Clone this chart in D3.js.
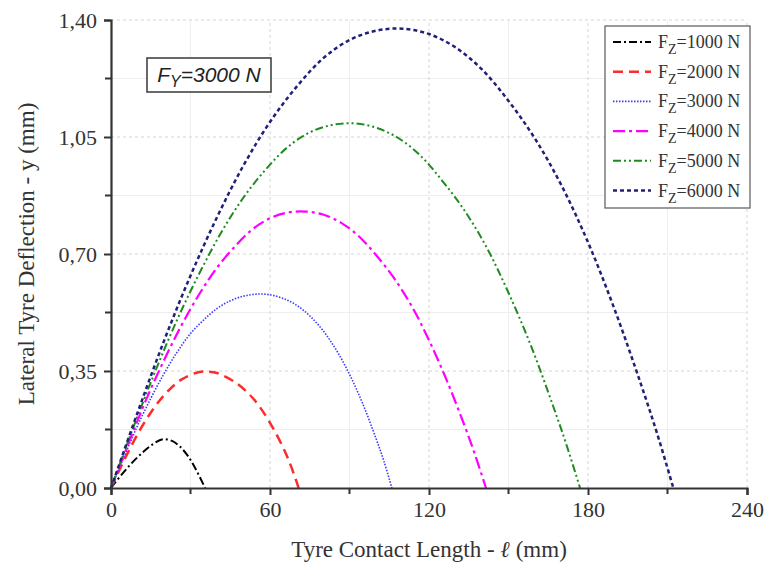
<!DOCTYPE html>
<html>
<head>
<meta charset="utf-8">
<script src="https://cdn.jsdelivr.net/npm/d3@7"></script>
<style>
  body { margin: 0; background: #fff; }
  svg { display: block; }
</style>
</head>
<body>
<div id="chart"></div>
<script>
// values (mm)
var loads = ["1000", "2000", "3000", "4000", "5000", "6000"];

var x1000 = [0, 4, 8, 12, 16, 19.5, 23, 26, 29, 32, 35.5];
var y1000 = [0, 0.04, 0.076, 0.107, 0.132, 0.146, 0.141, 0.124, 0.096, 0.056, 0];

var x2000 = [0, 6.7, 13.3, 20, 26.7, 33.4, 37, 40, 46.7, 53.4, 60, 66.7, 70.8];
var y2000 = [0, 0.111, 0.205, 0.277, 0.325, 0.347, 0.348, 0.344, 0.317, 0.27, 0.195, 0.09, 0];

var x3000 = [0, 5, 10, 15, 20, 25, 30, 35, 40, 45, 50, 55, 60, 65, 70, 75, 80, 85, 90, 95, 100, 103, 106];
var y3000 = [0, 0.095, 0.186, 0.268, 0.342, 0.407, 0.462, 0.503, 0.537, 0.56, 0.574, 0.58, 0.578, 0.567, 0.547, 0.515, 0.471, 0.413, 0.34, 0.252, 0.148, 0.08, 0];

var x4000 = [0, 6.7, 13.3, 20, 26.7, 33.4, 40, 46.7, 53.4, 60, 66.7, 73.4, 80, 86.7, 93.4, 100, 106.7, 113.4, 120, 126.7, 133.4, 137.4, 141.5];
var y4000 = [0, 0.135, 0.265, 0.382, 0.488, 0.581, 0.659, 0.722, 0.774, 0.807, 0.824, 0.827, 0.818, 0.794, 0.754, 0.697, 0.629, 0.545, 0.442, 0.322, 0.187, 0.099, 0];

var x5000 = [0, 8.3, 16.7, 25, 33.4, 41.7, 50, 58.4, 66.7, 75, 83.4, 91.7, 100, 108.4, 116.8, 125, 133.4, 141.8, 150, 158.5, 166.8, 171.8, 177];
var y5000 = [0, 0.179, 0.349, 0.504, 0.643, 0.766, 0.869, 0.953, 1.02, 1.064, 1.086, 1.091, 1.078, 1.047, 0.994, 0.919, 0.83, 0.719, 0.584, 0.425, 0.246, 0.131, 0];

var x6000 = [0, 10, 20, 30, 40, 50, 60, 70, 80, 90, 100, 110, 120, 130, 140, 150, 160, 170, 180, 190, 200, 206, 212.2];
var y6000 = [0, 0.225, 0.44, 0.635, 0.81, 0.965, 1.095, 1.2, 1.285, 1.34, 1.368, 1.374, 1.358, 1.318, 1.252, 1.158, 1.045, 0.905, 0.735, 0.535, 0.31, 0.165, 0];

var xTicks = [0, 60, 120, 180, 240];
var yTicks = [0, 0.35, 0.70, 1.05, 1.40];
var xMinor = [30, 90, 150, 210];
var yMinor = [0.175, 0.525, 0.875, 1.225];

var seriesX = [x1000, x2000, x3000, x4000, x5000, x6000];
var seriesY = [y1000, y2000, y3000, y4000, y5000, y6000];

var colors = ["#000000", "#ff2a2a", "#3a3aff", "#ff00ff", "#1f8a1f", "#20207a"];
var dashes = ["8,3,2,3", "10,6", "1.5,1.5", "12,4,3,4", "8,3,2,3,2,3", "4,3"];
var widths = [2, 2.5, 1.6, 2.2, 2, 2.5];

function init() {
    var width = 764;
    var height = 568;
    var margin = { left: 111, right: 17, top: 20, bottom: 80 };
    var serif = "'Liberation Serif', 'Times New Roman', serif";

    var svg = d3.select("#chart")
        .append("svg")
        .attr("width", width)
        .attr("height", height);

    var x = d3.scaleLinear().domain([0, 240]).range([margin.left, width - margin.right]);
    var y = d3.scaleLinear().domain([0, 1.4]).range([height - margin.bottom, margin.top]);

    // minor grid
    svg.append("g").selectAll("line")
        .data(xMinor).enter().append("line")
        .attr("x1", d => x(d)).attr("x2", d => x(d))
        .attr("y1", y(0)).attr("y2", y(1.4))
        .attr("stroke", "#eeeeee").attr("stroke-width", 1);
    svg.append("g").selectAll("line")
        .data(yMinor).enter().append("line")
        .attr("x1", x(0)).attr("x2", x(240))
        .attr("y1", d => y(d)).attr("y2", d => y(d))
        .attr("stroke", "#eeeeee").attr("stroke-width", 1);

    // major grid
    svg.append("g").selectAll("line")
        .data(xTicks.slice(1)).enter().append("line")
        .attr("x1", d => x(d)).attr("x2", d => x(d))
        .attr("y1", y(0)).attr("y2", y(1.4))
        .attr("stroke", "#d4d4d4").attr("stroke-width", 1)
        .attr("stroke-dasharray", "3,3");
    svg.append("g").selectAll("line")
        .data(yTicks.slice(1)).enter().append("line")
        .attr("x1", x(0)).attr("x2", x(240))
        .attr("y1", d => y(d)).attr("y2", d => y(d))
        .attr("stroke", "#d4d4d4").attr("stroke-width", 1)
        .attr("stroke-dasharray", "3,3");

    // curves
    var line = d3.line()
        .x(d => x(d[0]))
        .y(d => y(d[1]))
        .curve(d3.curveCatmullRom.alpha(0.5));

    loads.forEach(function (name, i) {
        var pts = seriesX[i].map((v, j) => [v, seriesY[i][j]]);
        svg.append("path")
            .datum(pts)
            .attr("fill", "none")
            .attr("stroke", colors[i])
            .attr("stroke-width", widths[i])
            .attr("stroke-dasharray", dashes[i])
            .attr("d", line);
    });

    // axes
    var fmt = d3.format(".2f");
    var xAxis = d3.axisBottom(x).tickValues(xTicks).tickSize(7).tickPadding(6).tickFormat(d3.format("d"));
    var yAxis = d3.axisLeft(y).tickValues(yTicks).tickSize(7).tickPadding(7)
        .tickFormat(d => fmt(d).replace(".", ","));

    var gx = svg.append("g")
        .attr("transform", "translate(0," + y(0) + ")")
        .call(xAxis);
    var gy = svg.append("g")
        .attr("transform", "translate(" + x(0) + ",0)")
        .call(yAxis);

    // minor ticks
    gx.selectAll(".minor").data(xMinor).enter().append("line")
        .attr("x1", d => x(d)).attr("x2", d => x(d))
        .attr("y1", 0).attr("y2", 6).attr("stroke", "#333").attr("stroke-width", 2);
    gy.selectAll(".minor").data(yMinor).enter().append("line")
        .attr("y1", d => y(d)).attr("y2", d => y(d))
        .attr("x1", 0).attr("x2", -6).attr("stroke", "#333").attr("stroke-width", 2);

    [gx, gy].forEach(function (g) {
        g.select(".domain").attr("stroke", "#333").attr("stroke-width", 2.2);
        g.selectAll(".tick line").attr("stroke", "#333").attr("stroke-width", 2);
        g.selectAll(".tick text")
            .style("font-family", serif)
            .style("font-size", "22px")
            .attr("fill", "#333");
    });

    // axis titles
    var xt = svg.append("text")
        .attr("x", (x(0) + x(240)) / 2)
        .attr("y", 557)
        .attr("text-anchor", "middle")
        .style("font-family", serif)
        .style("font-size", "23px")
        .attr("fill", "#333");
    xt.append("tspan").text("Tyre Contact Length - ");
    xt.append("tspan").style("font-style", "italic").text("\u2113");
    xt.append("tspan").text(" (mm)");

    svg.append("text")
        .attr("transform", "translate(34," + ((y(0) + y(1.4)) / 2) + ") rotate(-90)")
        .attr("text-anchor", "middle")
        .style("font-family", serif)
        .style("font-size", "23px")
        .attr("fill", "#333")
        .text("Lateral Tyre Deflection - y (mm)");

    // annotation box
    svg.append("rect")
        .attr("x", 147).attr("y", 58).attr("width", 124).attr("height", 34)
        .attr("fill", "#fff").attr("stroke", "#444").attr("stroke-width", 1.6);
    var ann = svg.append("text")
        .attr("x", 209).attr("y", 82)
        .attr("text-anchor", "middle")
        .style("font-family", "'Liberation Sans', Arial, sans-serif")
        .style("font-size", "21px")
        .style("font-style", "italic")
        .attr("fill", "#222");
    ann.append("tspan").text("F");
    ann.append("tspan").attr("dy", 5).style("font-size", "16px").text("Y");
    ann.append("tspan").attr("dy", -5).text("=3000 N");

    // legend
    var lg = svg.append("g");
    lg.append("rect")
        .attr("x", 605).attr("y", 26).attr("width", 145).attr("height", 182)
        .attr("fill", "#fff").attr("stroke", "#666").attr("stroke-width", 1.3);
    loads.forEach(function (name, i) {
        var ry = 42 + i * 29.7;
        lg.append("line")
            .attr("x1", 613).attr("x2", 651)
            .attr("y1", ry).attr("y2", ry)
            .attr("stroke", colors[i])
            .attr("stroke-width", widths[i])
            .attr("stroke-dasharray", dashes[i]);
        var t = lg.append("text")
            .attr("x", 658).attr("y", ry + 6)
            .style("font-family", serif)
            .style("font-size", "18px")
            .attr("fill", "#333");
        t.append("tspan").text("F");
        t.append("tspan").attr("dy", 6).style("font-size", "14px").text("Z");
        t.append("tspan").attr("dy", -6).text("=" + name + " N");
    });
}

window.onload = init;
</script>
</body>
</html>
